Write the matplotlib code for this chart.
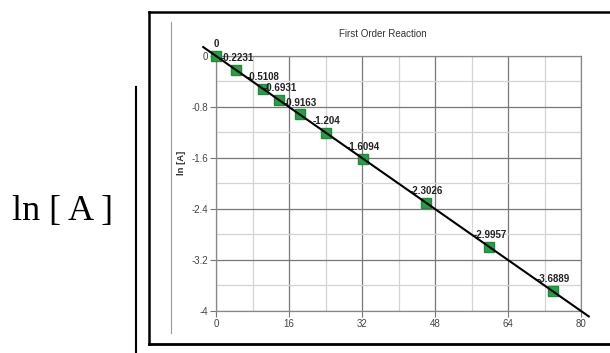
import numpy as np
import matplotlib
matplotlib.use("Agg")
import matplotlib.pyplot as plt
from matplotlib.ticker import MultipleLocator, FuncFormatter
from matplotlib.lines import Line2D

plt.rcParams['axes.unicode_minus'] = False
plt.rcParams['font.family'] = ['Liberation Sans', 'DejaVu Sans']

# data: time vs ln[A]
time = [0, 4.46, 10.22, 13.86, 18.33, 24.08, 32.19, 46.05, 59.91, 73.78]
ln_a = [0, -0.2231, -0.5108, -0.6931, -0.9163, -1.204, -1.6094, -2.3026, -2.9957, -3.6889]
point_labels = ['0', '-0.2231', '-0.5108', '-0.6931', '-0.9163', '-1.204',
                '-1.6094', '-2.3026', '-2.9957', '-3.6889']

fig = plt.figure(figsize=(6.1, 3.53), dpi=100)
ax = fig.add_axes([0.3541, 0.1190, 0.5984, 0.7224])

def fmt(v, pos):
    v = round(v, 3)
    return '0' if v == 0 else '%g' % v

# grid
ax.xaxis.set_major_locator(MultipleLocator(16))
ax.xaxis.set_minor_locator(MultipleLocator(8))
ax.yaxis.set_major_locator(MultipleLocator(0.8))
ax.yaxis.set_minor_locator(MultipleLocator(0.4))
ax.yaxis.set_major_formatter(FuncFormatter(fmt))
ax.grid(which='major', color='#777777', linewidth=0.9)
ax.grid(which='minor', color='#d4d4d4', linewidth=0.9)
ax.set_axisbelow(True)
ax.set_xlim(0, 80)
ax.set_ylim(-4, 0)

for s in ax.spines.values():
    s.set_color('#888888')
    s.set_linewidth(0.9)
ax.tick_params(which='major', length=4, width=0.8, color='#777777',
               labelsize=7, labelcolor='#444444', pad=1.5)
ax.tick_params(which='minor', length=0)

# trend line from a linear fit
slope, icpt = np.polyfit(time, ln_a, 1)
xs = np.array([-2.8, 81.7])
ax.plot(xs, slope * xs + icpt, color='black', linewidth=1.5, clip_on=False, zorder=5)

# points and value labels
ax.plot(time, ln_a, 's', color='#27a045', markeredgecolor='#1f8a3a',
        markersize=7, clip_on=False, zorder=3)
for t, v, lab in zip(time, ln_a, point_labels):
    ax.annotate(lab, (t, v), xytext=(0.5, 8.5), textcoords='offset points',
                ha='center', va='center', fontsize=7, fontweight='bold',
                color='#222222', zorder=4, annotation_clip=False)

fig.text(0.628, 0.904, 'First Order Reaction', ha='center', va='center',
         fontsize=7, color='#333333')
fig.text(0.298, 0.538, 'ln [A]', rotation=90, ha='center', va='center',
         fontsize=6.8, fontweight='bold', color='#333333')

# frame around the chart and side lines
fig.add_artist(Line2D([0.2443, 0.2443], [0.0255, 0.966], color='black', lw=1.8))
fig.add_artist(Line2D([0.2443, 1.0], [0.966, 0.966], color='black', lw=1.8))
fig.add_artist(Line2D([0.2443, 1.0], [0.0255, 0.0255], color='black', lw=2))
fig.add_artist(Line2D([0.2803, 0.2803], [0.0567, 0.9377], color='#999999', lw=0.8))
fig.add_artist(Line2D([0.223, 0.223], [0.0, 0.7535], color='black', lw=1.5))

fig.text(0.0197, 0.3768, 'ln [ A ]', ha='left', va='baseline',
         fontsize=26, family=['Liberation Serif', 'DejaVu Serif'], color='black')

fig.savefig('out.png', dpi=100)
